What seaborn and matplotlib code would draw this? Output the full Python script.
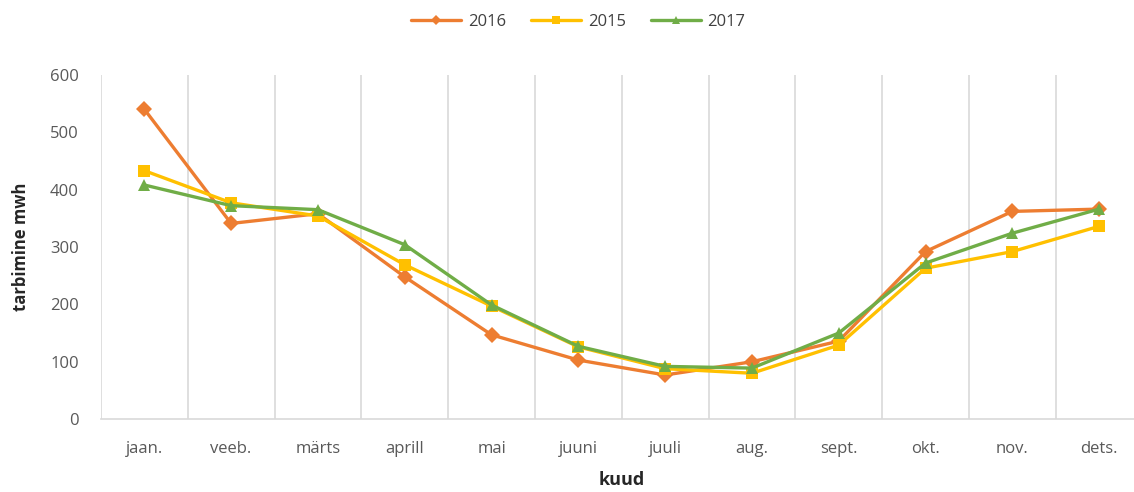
import matplotlib
matplotlib.use("Agg")
import matplotlib.pyplot as plt
import seaborn as sns
import pandas as pd
from matplotlib import font_manager

months = ["jaan.", "veeb.", "märts", "aprill", "mai", "juuni", "juuli", "aug.", "sept.", "okt.", "nov.", "dets."]
series_names = ["2016", "2015", "2017"]
v2016 = [540, 341, 358, 248, 147, 103, 77, 100, 136, 292, 362, 366]
v2015 = [433, 377, 354, 269, 197, 126, 88, 80, 129, 263, 292, 336]
v2017 = [408, 372, 365, 304, 199, 127, 92, 89, 150, 272, 324, 366]
colors = ["#ED7D31", "#FFC000", "#70AD47"]
markers = ["D", "s", "^"]
y_ticks = [0, 100, 200, 300, 400, 500, 600]

sns.set_theme(style="white")
avail = {f.name for f in font_manager.fontManager.ttflist}
fam = "Liberation Sans Narrow" if "Liberation Sans Narrow" in avail else "Open Sans"
plt.rcParams["font.family"] = [fam, "DejaVu Sans"]

rows = []
for name, vals in zip(series_names, [v2016, v2015, v2017]):
    for i, v in enumerate(vals):
        rows.append({"x": i, "value": v, "year": name})
df = pd.DataFrame(rows)

fig = plt.figure(figsize=(11.34, 4.92), dpi=100)
ax = fig.add_axes([0.089, 0.148, 0.9185, 0.70])

sns.lineplot(data=df, x="x", y="value", hue="year", style="year",
             hue_order=series_names, style_order=series_names,
             palette=dict(zip(series_names, colors)),
             markers=dict(zip(series_names, markers)),
             dashes=False, linewidth=2.4, markersize=8, markeredgewidth=0,
             ax=ax, legend=True)

ax.set_xlim(-0.5, 11.5)
ax.set_ylim(0, 600)
ax.set_yticks(y_ticks)
ax.set_xticks(range(12))
ax.set_xticklabels(months)
ax.set_xticks([i - 0.5 for i in range(13)], minor=True)
ax.grid(False)
ax.grid(True, which="minor", axis="x", color="#D9D9D9", linewidth=1.2)
ax.tick_params(axis="both", which="both", length=0, labelsize=12, labelcolor="#595959")
ax.tick_params(axis="x", pad=16)
ax.tick_params(axis="y", pad=16)
for s in ["top", "right", "left"]:
    ax.spines[s].set_visible(False)
ax.spines["bottom"].set_color("#D9D9D9")
ax.spines["bottom"].set_linewidth(1.2)

ax.set_xlabel("kuud", fontsize=13, fontweight="bold", color="#262626", labelpad=10)
ax.set_ylabel("tarbimine mwh", fontsize=12, fontweight="bold", color="#262626", labelpad=14)

handles, labels = ax.get_legend_handles_labels()
ax.get_legend().remove()
leg = fig.legend(handles, labels, loc="center", bbox_to_anchor=(0.51, 0.955),
                 ncol=3, frameon=False, fontsize=12, handlelength=3, columnspacing=1.5,
                 handletextpad=0.4, markerscale=0.7)
for t in leg.get_texts():
    t.set_color("#404040")

fig.savefig("out.png", dpi=100)
